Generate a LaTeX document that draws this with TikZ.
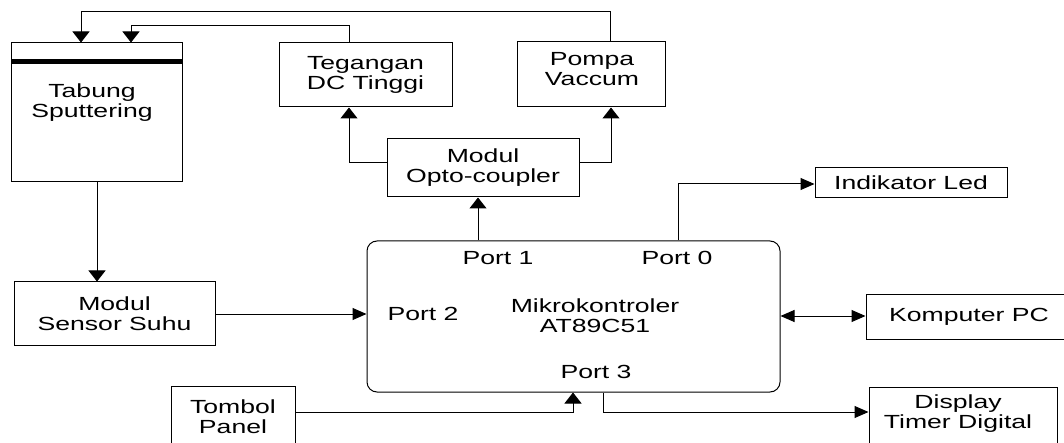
\documentclass[tikz,border=0pt]{standalone}
\usepackage{fontspec}
\setmainfont{Liberation Sans}[FakeStretch=1.4]
\usetikzlibrary{arrows.meta}
\begin{document}
\begin{tikzpicture}[x=1pt,y=-1pt,
  line width=1pt,
  font=\fontsize{19}{20}\selectfont,
  box/.style={draw,rectangle,inner sep=0pt,align=center},
  txt/.style={inner sep=0pt,align=center},
  hto/.style={-{Triangle[length=14pt,width=12pt]}},
  vto/.style={-{Triangle[length=11pt,width=17pt]}},
  hboth/.style={{Triangle[length=14pt,width=12pt]}-{Triangle[length=14pt,width=12pt]}}
]
\useasboundingbox (0,0) rectangle (1064,443);
% boxes
\node[box,minimum width=171pt,minimum height=139pt] (tabung) at (96.5,112.5) {};
\fill (tabung.north west) ++(0,17) rectangle ([yshift=-22pt]tabung.north east);
\node[txt] (tabungt) at (92,103) {Tabung\\Sputtering};
\node[box,minimum width=173pt,minimum height=64pt] (teg) at (365.5,75) {Tegangan\\DC Tinggi};
\node[box,minimum width=148pt,minimum height=65pt] (pompa) at (591,74.5) {};
\node[txt] (pompat) at (592,69) {Pompa\\Vaccum};
\node[box,minimum width=192pt,minimum height=58pt] (opto) at (483,168) {Modul\\Opto-coupler};
\node[box,minimum width=192pt,minimum height=30pt] (led) at (911,183) {Indikator Led};
\node[box,rounded corners=10pt,minimum width=413pt,minimum height=151pt] (mcu) at (573.5,316.5) {};
\node[txt] (p1) at (498,258) {Port 1};
\node[txt] (p0) at (677,258) {Port 0};
\node[txt] (p2) at (423,314) {Port 2};
\node[txt] (mcut) at (595,316) {Mikrokontroler\\AT89C51};
\node[txt] (p3) at (596,372) {Port 3};
\node[box,minimum width=204pt,minimum height=45pt] (pc) at (968,316.5) {};
\node[txt] (pct) at (969,317) {Komputer PC};
\node[box,minimum width=188pt,minimum height=63pt] (disp) at (963,418.5) {};
\node[txt] (dispt) at (958,414) {Display\\Timer Digital};
\node[box,minimum width=124pt,minimum height=64pt] (tombol) at (233,418) {};
\node[txt] (tombolt) at (233,417) {Tombol\\Panel};
\node[box,minimum width=201pt,minimum height=63pt] (sensor) at (114.5,313.5) {Modul\\Sensor Suhu};
% connectors
\draw[vto] (pompa.north -| 610,0) -- (610,12) -- (81,12) -- (tabung.north -| 81,0);
\draw[vto] (teg.north -| 349,0) -- (349,26) -- (131,26) -- (tabung.north -| 131,0);
\draw[vto] (opto.west |- 0,163) -- (349,163) -- (teg.south -| 349,0);
\draw[vto] (opto.east |- 0,163) -- (611,163) -- (pompa.south -| 611,0);
\draw[vto] (mcu.north -| 478,0) -- (opto.south -| 478,0);
\draw[hto] (mcu.north -| 678,0) -- (678,184) -- (led.west |- 0,184);
\draw[vto] (tabung.south -| 97,0) -- (sensor.north -| 97,0);
\draw[hto] (sensor.east |- 0,314) -- (mcu.west |- 0,314);
\draw[hboth] (mcu.east |- 0,316) -- (pc.west |- 0,316);
\draw[vto] (tombol.east |- 0,412) -- (573,412) -- (mcu.south -| 573,0);
\draw[hto] (mcu.south -| 603,0) -- (603,412) -- (disp.west |- 0,412);
\end{tikzpicture}
\end{document}
